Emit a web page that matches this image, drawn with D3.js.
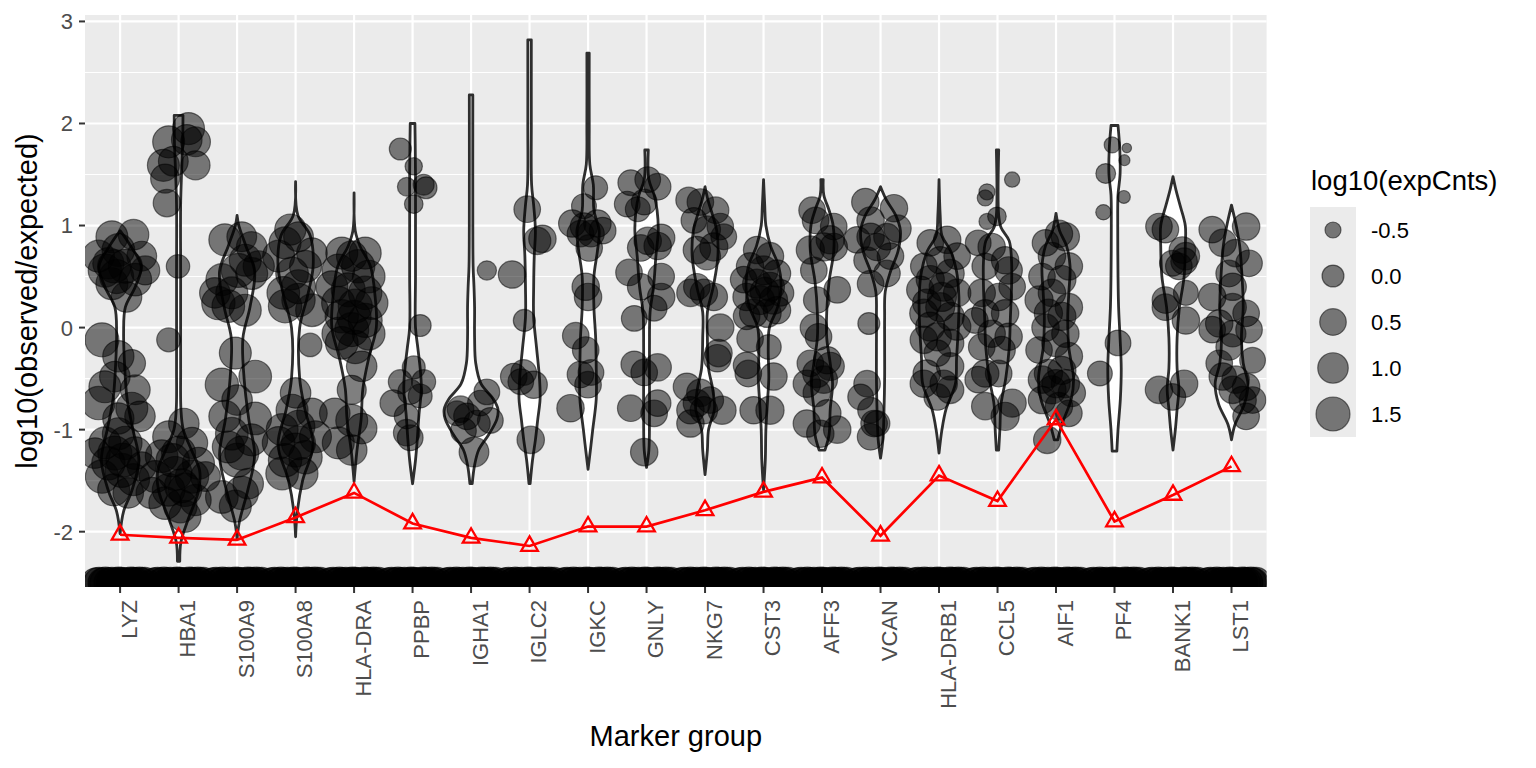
<!DOCTYPE html>
<html>
<head>
<meta charset="utf-8">
<script src="https://cdn.jsdelivr.net/npm/d3@7/dist/d3.min.js"></script>
<style>
  body { margin: 0; background: #fff; }
  text { font-family: "Liberation Sans", Arial, sans-serif; }
</style>
</head>
<body>
<svg id="chart" width="1536" height="768"></svg>
<script>
// Marker genes on the x axis
const genes = ['LYZ', 'HBA1', 'S100A9', 'S100A8', 'HLA-DRA', 'PPBP', 'IGHA1', 'IGLC2', 'IGKC', 'GNLY',
  'NKG7', 'CST3', 'AFF3', 'VCAN', 'HLA-DRB1', 'CCL5', 'AIF1', 'PF4', 'BANK1', 'LST1'];

// Red line (one value per gene)
const lineValues = [-2.03, -2.06, -2.08, -1.86, -1.62, -1.92, -2.06, -2.14, -1.95, -1.95,
  -1.79, -1.61, -1.47, -2.04, -1.45, -1.70, -0.90, -1.90, -1.64, -1.36];

const yTicks = [-2, -1, 0, 1, 2, 3];
const yMinor = [-2.5, -1.5, -0.5, 0.5, 1.5, 2.5];
const sizeBreaks = [-0.5, 0, 0.5, 1, 1.5];
const sizeLabels = ['-0.5', '0.0', '0.5', '1.0', '1.5'];

// Violin outlines: [value, half width in category units], bottom to top
const violinProfiles = [
  [[-2.02,0],[-1.8,0.06],[-1.6,0.2],[-1.3,0.32],[-1.0,0.22],[-0.7,0.12],[-0.4,0.08],[-0.05,0.06],[0.2,0.09],[0.4,0.26],[0.6,0.36],[0.8,0.18],[0.95,0]],
  [[-2.29,0.02],[-2.1,0.04],[-1.9,0.15],[-1.6,0.34],[-1.4,0.36],[-1.2,0.22],[-1.0,0.08],[-0.8,0.04],[-0.4,0.035],[0.5,0.035],[1.2,0.035],[1.5,0.05],[1.8,0.07],[2.08,0.075]],
  [[-2.07,0],[-1.9,0.04],[-1.6,0.18],[-1.25,0.3],[-0.9,0.2],[-0.5,0.12],[-0.1,0.1],[0.2,0.22],[0.55,0.3],[0.8,0.15],[1.0,0.03],[1.1,0]],
  [[-2.05,0],[-1.8,0.03],[-1.5,0.12],[-1.15,0.3],[-0.8,0.16],[-0.5,0.07],[0.0,0.07],[0.3,0.2],[0.6,0.3],[0.9,0.25],[1.1,0.04],[1.43,0]],
  [[-1.51,0],[-1.2,0.05],[-0.9,0.12],[-0.6,0.15],[-0.3,0.25],[0.0,0.38],[0.3,0.36],[0.6,0.28],[0.8,0.1],[0.95,0.02],[1.32,0]],
  [[-1.53,0],[-1.3,0.05],[-1.1,0.08],[-0.85,0.11],[-0.6,0.15],[-0.4,0.13],[-0.2,0.09],[0.0,0.05],[0.5,0.05],[1.0,0.05],[1.5,0.05],[1.8,0.045],[2.0,0.04]],
  [[-1.53,0.02],[-1.35,0.06],[-1.2,0.13],[-1.05,0.3],[-0.9,0.44],[-0.8,0.46],[-0.7,0.38],[-0.55,0.17],[-0.35,0.08],[-0.1,0.06],[0.2,0.06],[0.4,0.05],[0.6,0.035],[1.0,0.03],[2.28,0.03]],
  [[-1.53,0.01],[-1.3,0.05],[-1.1,0.1],[-0.9,0.14],[-0.7,0.18],[-0.5,0.17],[-0.2,0.12],[0.1,0.07],[0.4,0.07],[0.7,0.08],[0.95,0.1],[1.2,0.07],[1.4,0.035],[2.0,0.03],[2.82,0.03]],
  [[-1.39,0],[-1.2,0.04],[-1.0,0.08],[-0.7,0.14],[-0.4,0.14],[-0.1,0.13],[0.2,0.1],[0.5,0.1],[0.75,0.16],[0.95,0.19],[1.15,0.1],[1.4,0.09],[1.6,0.03],[2.0,0.02],[2.69,0.02]],
  [[-1.37,0],[-1.2,0.04],[-0.9,0.05],[-0.5,0.05],[-0.2,0.05],[0.15,0.06],[0.4,0.12],[0.7,0.16],[0.95,0.2],[1.15,0.18],[1.3,0.13],[1.45,0.04],[1.74,0.03]],
  [[-1.44,0],[-1.2,0.04],[-1.0,0.06],[-0.8,0.16],[-0.6,0.13],[-0.4,0.06],[-0.1,0.04],[0.15,0.04],[0.4,0.14],[0.7,0.22],[0.95,0.2],[1.1,0.13],[1.25,0.05],[1.38,0]],
  [[-1.59,0],[-1.3,0.03],[-1.0,0.04],[-0.7,0.07],[-0.5,0.09],[-0.2,0.08],[0.0,0.1],[0.2,0.24],[0.4,0.3],[0.6,0.26],[0.8,0.12],[1.0,0.04],[1.2,0.02],[1.45,0]],
  [[-1.2,0.05],[-1.05,0.12],[-0.8,0.14],[-0.55,0.18],[-0.35,0.14],[-0.1,0.08],[0.15,0.08],[0.45,0.12],[0.75,0.2],[1.0,0.19],[1.15,0.12],[1.3,0.03],[1.45,0.02]],
  [[-1.28,0],[-1.1,0.04],[-0.8,0.06],[-0.5,0.07],[-0.2,0.07],[0.1,0.07],[0.35,0.08],[0.55,0.17],[0.75,0.3],[0.95,0.34],[1.1,0.26],[1.25,0.1],[1.38,0]],
  [[-1.23,0],[-1.0,0.05],[-0.8,0.12],[-0.55,0.28],[-0.3,0.3],[0.0,0.33],[0.3,0.34],[0.55,0.3],[0.75,0.2],[0.9,0.05],[1.1,0.02],[1.45,0]],
  [[-1.2,0.02],[-1.0,0.04],[-0.75,0.06],[-0.5,0.14],[-0.2,0.2],[0.1,0.22],[0.4,0.24],[0.65,0.24],[0.85,0.2],[0.98,0.06],[1.1,0.02],[1.74,0.02]],
  [[-1.1,0.03],[-0.95,0.1],[-0.7,0.26],[-0.5,0.3],[-0.2,0.22],[0.1,0.2],[0.35,0.22],[0.6,0.24],[0.8,0.18],[0.95,0.06],[1.12,0]],
  [[-1.21,0.04],[-1.0,0.06],[-0.7,0.1],[-0.4,0.115],[-0.1,0.095],[0.2,0.07],[0.5,0.06],[1.0,0.055],[1.3,0.06],[1.5,0.095],[1.75,0.09],[1.98,0.06]],
  [[-1.2,0],[-1.0,0.04],[-0.8,0.07],[-0.6,0.1],[-0.4,0.07],[-0.1,0.07],[0.2,0.11],[0.5,0.19],[0.8,0.21],[1.0,0.21],[1.2,0.12],[1.35,0.05],[1.48,0]],
  [[-1.1,0],[-0.95,0.06],[-0.75,0.22],[-0.55,0.28],[-0.35,0.2],[-0.1,0.17],[0.2,0.2],[0.5,0.18],[0.8,0.14],[1.0,0.08],[1.2,0]]
];

// Jittered cells: [gene, jitter offset, log10(observed/expected), log10(expCnts)]
const cells = [
  ['LYZ',-0.14,0.89,1.2],['LYZ',0.23,0.91,1.0],['LYZ',-0.37,0.70,1.2],['LYZ',-0.03,0.76,1.3],['LYZ',0.37,0.70,0.9],
  ['LYZ',-0.26,0.56,1.4],['LYZ',0.09,0.60,1.5],['LYZ',0.43,0.56,0.8],['LYZ',-0.14,0.43,1.2],['LYZ',0.26,0.47,1.3],
  ['LYZ',0.11,0.30,1.0],['LYZ',-0.06,0.50,1.5],['LYZ',-0.2,0.63,1.1],['LYZ',-0.31,-0.12,1.5],['LYZ',-0.03,-0.28,1.1],
  ['LYZ',0.2,-0.35,0.6],['LYZ',-0.09,-0.48,1.0],['LYZ',-0.26,-0.58,1.2],['LYZ',0.26,-0.61,0.9],['LYZ',-0.37,-0.74,1.4],
  ['LYZ',0.2,-0.79,1.2],['LYZ',0.34,-0.87,1.0],['LYZ',-0.03,-0.89,1.1],['LYZ',-0.26,-1.13,1.2],['LYZ',0.09,-1.13,1.4],
  ['LYZ',-0.43,-1.23,1.0],['LYZ',-0.09,-1.23,1.5],['LYZ',0.26,-1.23,1.3],['LYZ',0.37,-1.36,0.8],['LYZ',-0.31,-1.46,1.4],
  ['LYZ',0.03,-1.40,1.5],['LYZ',0.23,-1.49,1.2],['LYZ',-0.11,-1.59,1.2],['LYZ',0.14,-1.62,1.0],['LYZ',-0.2,-1.33,1.4],
  ['LYZ',-0.03,-1.04,1.2],['LYZ',-0.1,0.6,1.4],['LYZ',0.05,-1.3,1.5],
  ['HBA1',-0.17,1.82,1.2],['HBA1',0.17,1.95,1.2],['HBA1',0.29,1.82,0.9],['HBA1',0.29,1.59,0.8],['HBA1',-0.26,1.59,1.2],
  ['HBA1',-0.09,1.63,0.9],['HBA1',-0.23,1.46,0.8],['HBA1',-0.2,1.22,0.6],['HBA1',0.14,1.84,1.0],['HBA1',-0.01,0.60,0.15],
  ['HBA1',-0.17,-0.12,0.2],['HBA1',0.09,-0.94,1.0],['HBA1',-0.17,-1.07,1.2],['HBA1',0.23,-1.13,1.1],['HBA1',-0.29,-1.26,1.3],
  ['HBA1',0.0,-1.23,1.5],['HBA1',0.34,-1.33,1.2],['HBA1',-0.4,-1.46,1.2],['HBA1',-0.06,-1.43,1.5],['HBA1',0.23,-1.46,1.4],
  ['HBA1',-0.17,-1.59,1.3],['HBA1',0.11,-1.59,1.4],['HBA1',-0.23,-1.72,1.3],['HBA1',0.11,-1.85,1.2],['HBA1',0.29,-1.69,1.1],
  ['HBA1',-0.46,-1.62,1.1],['HBA1',0.03,-1.75,1.4],['HBA1',0.46,-1.46,0.9],['HBA1',-0.1,-1.3,1.4],['HBA1',0.05,-1.55,1.5],
  ['S100A9',-0.21,0.86,1.2],['S100A9',0.08,0.89,0.9],['S100A9',0.25,0.79,1.0],['S100A9',0.14,0.66,1.2],['S100A9',0.37,0.60,1.1],
  ['S100A9',-0.26,0.47,1.2],['S100A9',0.02,0.56,1.5],['S100A9',0.25,0.53,1.2],['S100A9',-0.32,0.24,1.4],['S100A9',-0.15,0.21,1.3],
  ['S100A9',0.14,0.17,1.2],['S100A9',-0.09,0.34,1.2],['S100A9',-0.38,0.34,1.0],['S100A9',-0.03,-0.25,1.2],['S100A9',-0.26,-0.56,1.4],
  ['S100A9',0.31,-0.48,1.3],['S100A9',0.0,-0.71,1.0],['S100A9',-0.21,-0.87,1.2],['S100A9',0.31,-0.89,1.3],['S100A9',-0.09,-1.04,1.3],
  ['S100A9',0.25,-1.10,1.2],['S100A9',-0.15,-1.17,1.2],['S100A9',0.08,-1.23,1.5],['S100A9',0.0,-1.30,1.5],['S100A9',-0.26,-1.66,1.3],
  ['S100A9',0.08,-1.62,1.4],['S100A9',-0.03,-1.75,1.2],['S100A9',0.19,-1.53,1.0],
  ['S100A8',-0.09,0.96,1.1],['S100A8',-0.18,0.83,1.2],['S100A8',0.05,0.89,0.9],['S100A8',0.28,0.73,1.0],['S100A8',0.17,0.60,1.2],
  ['S100A8',-0.06,0.53,1.3],['S100A8',-0.29,0.70,1.2],['S100A8',-0.21,0.34,1.3],['S100A8',0.05,0.27,1.4],['S100A8',0.28,0.17,1.3],
  ['S100A8',-0.18,0.21,1.4],['S100A8',0.05,0.40,1.5],['S100A8',0.25,-0.17,0.15],['S100A8',0.0,-0.64,1.0],['S100A8',0.28,-0.84,1.0],
  ['S100A8',-0.06,-0.81,1.2],['S100A8',-0.23,-1.0,1.2],['S100A8',0.05,-0.97,1.3],['S100A8',-0.29,-1.13,1.3],['S100A8',0.05,-1.13,1.5],
  ['S100A8',0.34,-1.07,1.2],['S100A8',-0.18,-1.30,1.4],['S100A8',0.17,-1.27,1.4],['S100A8',-0.23,-1.43,1.3],['S100A8',0.11,-1.43,1.2],
  ['S100A8',0.0,-1.20,1.5],
  ['HLA-DRA',-0.21,0.73,1.2],['HLA-DRA',0.19,0.73,1.2],['HLA-DRA',-0.04,0.70,1.0],['HLA-DRA',-0.27,0.56,1.3],['HLA-DRA',0.07,0.60,1.4],
  ['HLA-DRA',0.25,0.50,1.3],['HLA-DRA',-0.38,0.40,1.2],['HLA-DRA',-0.1,0.37,1.5],['HLA-DRA',0.19,0.34,1.4],['HLA-DRA',0.30,0.24,1.3],
  ['HLA-DRA',-0.27,0.24,1.4],['HLA-DRA',0.02,0.21,1.5],['HLA-DRA',-0.21,0.11,1.4],['HLA-DRA',0.19,0.07,1.5],['HLA-DRA',-0.04,-0.02,1.5],
  ['HLA-DRA',-0.27,-0.06,1.3],['HLA-DRA',0.25,-0.06,1.3],['HLA-DRA',0.02,-0.19,1.4],['HLA-DRA',-0.21,-0.15,1.3],['HLA-DRA',0.13,-0.38,1.0],
  ['HLA-DRA',-0.04,-0.61,0.8],['HLA-DRA',-0.33,-0.84,1.0],['HLA-DRA',-0.04,-0.91,1.2],['HLA-DRA',0.13,-0.99,1.0],['HLA-DRA',-0.27,-1.13,1.2],
  ['HLA-DRA',-0.04,-1.2,1.0],['HLA-DRA',0.0,0.1,1.5],
  ['PPBP',-0.21,1.75,0.0],['PPBP',0.02,1.58,-0.4],['PPBP',-0.1,1.38,-0.3],['PPBP',0.23,1.37,0.0],['PPBP',0.19,1.40,-0.1],
  ['PPBP',0.02,1.21,-0.3],['PPBP',0.13,0.02,0.0],['PPBP',0.02,-0.39,0.1],['PPBP',-0.21,-0.53,0.2],['PPBP',0.19,-0.53,0.2],
  ['PPBP',-0.04,-0.63,0.3],['PPBP',0.13,-0.67,0.2],['PPBP',-0.33,-0.74,0.5],['PPBP',-0.1,-0.87,0.3],['PPBP',-0.1,-1.03,0.5],
  ['PPBP',-0.04,-1.08,0.4],
  ['IGHA1',0.27,0.56,-0.25],['IGHA1',-0.24,-0.84,0.3],['IGHA1',-0.07,-0.87,0.5],['IGHA1',0.16,-0.74,0.4],['IGHA1',0.27,-0.63,0.4],
  ['IGHA1',-0.13,-1.01,0.4],['IGHA1',0.1,-0.94,0.5],['IGHA1',0.33,-0.91,0.4],['IGHA1',0.05,-1.22,0.9],['IGHA1',-0.18,-0.80,0.5],
  ['IGLC2',-0.04,1.16,0.5],['IGLC2',0.13,0.85,0.6],['IGLC2',0.22,0.87,0.6],['IGLC2',-0.3,0.52,0.6],['IGLC2',-0.09,0.07,0.0],
  ['IGLC2',-0.27,-0.48,0.5],['IGLC2',-0.1,-0.44,0.4],['IGLC2',0.07,-0.56,0.6],['IGLC2',-0.15,-0.53,0.4],['IGLC2',0.02,-1.10,0.6],
  ['IGKC',0.13,1.37,0.2],['IGKC',-0.07,1.19,0.3],['IGKC',-0.27,1.02,0.6],['IGKC',-0.07,0.99,0.6],['IGKC',0.16,1.02,0.6],
  ['IGKC',0.05,0.92,0.5],['IGKC',-0.13,0.92,0.5],['IGKC',0.25,0.95,0.5],['IGKC',0.02,0.78,0.5],['IGKC',-0.04,0.40,0.6],
  ['IGKC',0.0,0.30,0.6],['IGKC',-0.21,-0.08,0.5],['IGKC',-0.04,-0.22,0.5],['IGKC',-0.13,-0.46,0.5],['IGKC',0.05,-0.44,0.4],
  ['IGKC',0.0,-0.56,0.5],['IGKC',-0.3,-0.79,0.6],
  ['GNLY',-0.27,1.42,0.4],['GNLY',0.02,1.45,0.4],['GNLY',0.19,1.38,0.5],['GNLY',-0.33,1.21,0.4],['GNLY',-0.04,1.23,0.4],
  ['GNLY',-0.15,1.16,0.3],['GNLY',0.02,0.85,0.6],['GNLY',0.25,0.88,0.6],['GNLY',-0.1,0.78,0.5],['GNLY',0.19,0.80,0.6],
  ['GNLY',-0.3,0.54,0.5],['GNLY',-0.1,0.40,0.5],['GNLY',0.25,0.50,0.5],['GNLY',0.25,0.30,0.6],['GNLY',0.13,0.19,0.4],
  ['GNLY',-0.21,0.09,0.4],['GNLY',-0.21,-0.36,0.5],['GNLY',-0.04,-0.44,0.5],['GNLY',0.19,-0.39,0.6],['GNLY',-0.27,-0.79,0.5],
  ['GNLY',0.13,-0.84,0.5],['GNLY',0.19,-0.74,0.5],['GNLY',-0.04,-1.22,0.6],
  ['NKG7',-0.28,1.25,0.4],['NKG7',-0.08,1.23,0.5],['NKG7',0.18,1.15,0.5],['NKG7',-0.19,1.05,0.4],['NKG7',0.26,0.99,0.5],
  ['NKG7',0.03,0.96,0.6],['NKG7',0.32,0.89,0.4],['NKG7',-0.14,0.76,0.6],['NKG7',0.15,0.79,0.7],['NKG7',0.03,0.70,0.6],
  ['NKG7',-0.25,0.34,0.6],['NKG7',-0.02,0.34,0.6],['NKG7',0.15,0.30,0.6],['NKG7',-0.14,0.40,0.5],['NKG7',0.26,0.0,0.6],
  ['NKG7',0.23,-0.25,0.6],['NKG7',0.21,-0.30,0.6],['NKG7',-0.31,-0.58,0.6],['NKG7',-0.08,-0.64,0.6],['NKG7',0.09,-0.71,0.5],
  ['NKG7',-0.25,-0.81,0.6],['NKG7',-0.02,-0.81,0.6],['NKG7',0.29,-0.81,0.7],['NKG7',-0.25,-0.94,0.6],['NKG7',-0.14,-0.74,0.6],
  ['CST3',-0.11,0.76,0.6],['CST3',0.11,0.70,0.6],['CST3',-0.23,0.60,0.6],['CST3',0.0,0.56,0.8],['CST3',0.23,0.53,0.6],
  ['CST3',-0.34,0.47,0.5],['CST3',-0.11,0.43,0.8],['CST3',0.11,0.40,0.8],['CST3',0.29,0.34,0.5],['CST3',-0.29,0.30,0.6],
  ['CST3',-0.06,0.27,0.8],['CST3',0.17,0.27,0.7],['CST3',-0.17,0.14,0.7],['CST3',0.06,0.14,0.7],['CST3',-0.29,0.11,0.5],
  ['CST3',0.23,0.17,0.6],['CST3',-0.23,-0.11,0.5],['CST3',0.09,-0.19,0.3],['CST3',-0.29,-0.37,0.5],['CST3',-0.26,-0.45,0.5],
  ['CST3',0.17,-0.48,0.6],['CST3',-0.17,-0.81,0.6],['CST3',0.11,-0.81,0.7],['CST3',0.02,0.35,0.8],
  ['AFF3',-0.17,1.15,0.5],['AFF3',-0.11,1.05,0.5],['AFF3',0.2,0.99,0.5],['AFF3',0.14,0.86,0.7],['AFF3',-0.2,0.76,0.7],
  ['AFF3',0.03,0.79,0.7],['AFF3',0.2,0.79,0.6],['AFF3',-0.14,0.56,0.5],['AFF3',0.26,0.37,0.5],['AFF3',-0.09,0.27,0.5],
  ['AFF3',-0.14,0.0,0.6],['AFF3',-0.06,-0.09,0.5],['AFF3',-0.2,-0.35,0.5],['AFF3',0.09,-0.32,0.6],['AFF3',0.14,-0.38,0.7],
  ['AFF3',-0.09,-0.45,0.7],['AFF3',-0.26,-0.55,0.6],['AFF3',0.03,-0.51,0.6],['AFF3',-0.09,-0.64,0.6],['AFF3',0.09,-0.84,0.6],
  ['AFF3',-0.26,-0.94,0.6],['AFF3',-0.03,-1.04,0.6],['AFF3',0.26,-1.0,0.6],
  ['VCAN',-0.26,1.23,0.6],['VCAN',0.23,1.17,0.6],['VCAN',-0.17,1.05,0.6],['VCAN',0.29,0.97,0.6],['VCAN',-0.4,0.86,0.5],
  ['VCAN',-0.17,0.89,0.6],['VCAN',0.11,0.89,0.5],['VCAN',-0.06,0.79,0.6],['VCAN',-0.23,0.66,0.5],['VCAN',0.17,0.70,0.5],
  ['VCAN',-0.17,0.43,0.5],['VCAN',0.11,0.53,0.5],['VCAN',-0.2,0.04,0.0],['VCAN',-0.23,-0.55,0.5],['VCAN',-0.34,-0.68,0.4],
  ['VCAN',-0.17,-0.81,0.4],['VCAN',-0.11,-0.94,0.5],['VCAN',-0.17,-1.07,0.5],['VCAN',-0.06,-0.94,0.4],
  ['HLA-DRB1',-0.15,0.83,0.5],['HLA-DRB1',0.14,0.86,0.6],['HLA-DRB1',0.31,0.70,0.5],['HLA-DRB1',-0.26,0.60,0.5],['HLA-DRB1',0.02,0.66,0.6],
  ['HLA-DRB1',0.19,0.53,0.7],['HLA-DRB1',-0.15,0.47,0.7],['HLA-DRB1',-0.32,0.37,0.6],['HLA-DRB1',0.08,0.40,0.8],['HLA-DRB1',0.31,0.34,0.6],
  ['HLA-DRB1',-0.21,0.24,0.7],['HLA-DRB1',0.02,0.20,0.8],['HLA-DRB1',-0.26,0.14,0.7],['HLA-DRB1',0.19,0.11,0.7],['HLA-DRB1',-0.15,0.01,0.8],
  ['HLA-DRB1',0.31,0.01,0.6],['HLA-DRB1',-0.03,-0.09,0.7],['HLA-DRB1',0.19,-0.15,0.6],['HLA-DRB1',-0.26,-0.12,0.6],['HLA-DRB1',-0.03,-0.25,0.5],
  ['HLA-DRB1',0.19,-0.38,0.6],['HLA-DRB1',-0.21,-0.45,0.6],['HLA-DRB1',0.08,-0.55,0.6],['HLA-DRB1',-0.26,-0.55,0.6],['HLA-DRB1',0.19,-0.61,0.6],
  ['HLA-DRB1',-0.03,-0.68,0.5],['HLA-DRB1',0.05,0.3,0.8],
  ['CCL5',0.25,1.45,-0.55],['CCL5',-0.18,1.33,-0.5],['CCL5',-0.21,1.27,-0.5],['CCL5',-0.18,1.04,-0.5],['CCL5',-0.01,1.09,-0.3],
  ['CCL5',-0.33,0.83,0.4],['CCL5',-0.1,0.79,0.6],['CCL5',0.13,0.66,0.6],['CCL5',-0.21,0.60,0.5],['CCL5',0.19,0.56,0.6],
  ['CCL5',0.25,0.40,0.5],['CCL5',-0.27,0.34,0.6],['CCL5',0.02,0.30,0.6],['CCL5',-0.21,0.14,0.6],['CCL5',0.13,0.14,0.6],
  ['CCL5',-0.38,0.07,0.4],['CCL5',-0.1,-0.06,0.6],['CCL5',0.19,-0.09,0.6],['CCL5',-0.27,-0.19,0.5],['CCL5',0.07,-0.22,0.6],
  ['CCL5',-0.21,-0.45,0.6],['CCL5',0.02,-0.45,0.5],['CCL5',-0.33,-0.51,0.5],['CCL5',-0.21,-0.77,0.6],['CCL5',0.25,-0.74,0.7],
  ['CCL5',0.13,-0.87,0.7],
  ['AIF1',0.05,0.92,0.6],['AIF1',-0.18,0.83,0.5],['AIF1',0.16,0.89,0.7],['AIF1',-0.07,0.70,0.6],['AIF1',0.22,0.60,0.6],
  ['AIF1',-0.24,0.50,0.5],['AIF1',0.1,0.47,0.7],['AIF1',-0.07,0.34,0.6],['AIF1',-0.29,0.27,0.7],['AIF1',0.22,0.20,0.6],
  ['AIF1',-0.13,0.14,0.7],['AIF1',0.1,0.11,0.7],['AIF1',-0.18,0.0,0.6],['AIF1',0.16,-0.06,0.6],['AIF1',-0.01,-0.15,0.6],
  ['AIF1',-0.29,-0.22,0.5],['AIF1',0.22,-0.28,0.6],['AIF1',-0.13,-0.45,0.7],['AIF1',0.1,-0.42,0.7],['AIF1',-0.24,-0.51,0.6],
  ['AIF1',0.16,-0.55,0.7],['AIF1',-0.07,-0.61,0.7],['AIF1',0.27,-0.64,0.6],['AIF1',-0.24,-0.71,0.6],['AIF1',0.05,-0.77,0.6],
  ['AIF1',0.22,-0.84,0.5],['AIF1',-0.15,-1.10,0.6],['AIF1',0.0,-0.55,0.7],
  ['PF4',-0.04,1.79,-0.5],['PF4',0.21,1.76,-0.87],['PF4',0.17,1.64,-0.8],['PF4',-0.15,1.51,-0.2],['PF4',0.16,1.28,-0.7],
  ['PF4',-0.19,1.13,-0.55],['PF4',0.06,-0.15,0.4],['PF4',-0.25,-0.45,0.3],
  ['BANK1',-0.24,0.99,0.5],['BANK1',-0.13,0.96,0.5],['BANK1',0.16,0.76,0.5],['BANK1',0.22,0.70,0.6],['BANK1',0.1,0.60,0.5],
  ['BANK1',0.19,0.65,0.5],['BANK1',-0.01,0.63,0.4],['BANK1',-0.13,0.27,0.5],['BANK1',0.22,0.34,0.3],['BANK1',-0.13,0.20,0.5],
  ['BANK1',0.22,0.07,0.6],['BANK1',-0.24,-0.61,0.6],['BANK1',-0.01,-0.68,0.5],['BANK1',0.19,-0.55,0.6],
  ['LST1',-0.33,0.96,0.5],['LST1',-0.15,0.83,0.6],['LST1',0.25,0.99,0.6],['LST1',0.07,0.73,0.6],['LST1',0.3,0.63,0.5],
  ['LST1',-0.04,0.53,0.5],['LST1',-0.33,0.30,0.6],['LST1',0.02,0.40,0.6],['LST1',0.25,0.14,0.5],['LST1',0.02,0.20,0.6],
  ['LST1',-0.21,0.04,0.6],['LST1',-0.33,-0.02,0.5],['LST1',0.02,-0.06,0.5],['LST1',0.3,-0.02,0.5],['LST1',-0.04,-0.19,0.5],
  ['LST1',0.36,-0.32,0.4],['LST1',-0.21,-0.35,0.5],['LST1',-0.15,-0.48,0.6],['LST1',0.07,-0.51,0.6],['LST1',0.25,-0.58,0.6],
  ['LST1',0.02,-0.61,0.6],['LST1',0.36,-0.71,0.5],['LST1',0.19,-0.71,0.6],['LST1',0.25,-0.87,0.5]
];

// Cells with no observed counts sit on the floor of the axis
const zeroValue = -2.5;
const zeroJitter = [-0.41, -0.36, -0.3, -0.25, -0.19, -0.14, -0.08, -0.03, 0.02, 0.07, 0.12, 0.18, 0.23, 0.28, 0.33, 0.38, 0.42];
const zeroSizes = [0.9, 1.0, 0.8, 1.1, 0.9, 1.0, 0.8, 1.1, 1.0, 0.9, 0.8, 1.1, 1.0, 0.9, 1.1, 0.8, 1.0];

// Layout
const svg = d3.select('#chart');
const panel = {left: 85, right: 1266.6, top: 15, bottom: 587};

const x = d3.scalePoint()
  .domain(genes)
  .range([panel.left, panel.right])
  .padding(0.6);
const step = x.step();

const y = d3.scaleLinear()
  .domain([-2.542, 3.063])
  .range([panel.bottom, panel.top]);

// Point area grows linearly with log10(expCnts)
const area = d3.scaleLinear().domain([-1.07, 1.5]).range([0, 289]);
const radius = (v) => Math.sqrt(Math.max(area(v), 4));

// Panel background and grid
svg.append('rect')
  .attr('x', panel.left).attr('y', panel.top)
  .attr('width', panel.right - panel.left).attr('height', panel.bottom - panel.top)
  .attr('fill', '#ebebeb');

const grid = svg.append('g');
grid.selectAll('.minor').data(yMinor).join('line')
  .attr('x1', panel.left).attr('x2', panel.right)
  .attr('y1', d => y(d)).attr('y2', d => y(d))
  .attr('stroke', '#fff').attr('stroke-width', 1.1);
grid.selectAll('.major').data(yTicks).join('line')
  .attr('x1', panel.left).attr('x2', panel.right)
  .attr('y1', d => y(d)).attr('y2', d => y(d))
  .attr('stroke', '#fff').attr('stroke-width', 2.2);
grid.selectAll('.vmajor').data(genes).join('line')
  .attr('x1', d => x(d)).attr('x2', d => x(d))
  .attr('y1', panel.top).attr('y2', panel.bottom)
  .attr('stroke', '#fff').attr('stroke-width', 2.2);

svg.append('clipPath').attr('id', 'panelClip')
  .append('rect')
  .attr('x', panel.left).attr('y', panel.top)
  .attr('width', panel.right - panel.left).attr('height', panel.bottom - panel.top);

const plot = svg.append('g').attr('clip-path', 'url(#panelClip)');

// Violins
genes.forEach((g, i) => {
  const cx = x(g);
  const violinArea = d3.area()
    .y(d => y(d[0]))
    .x0(d => cx - d[1] * step)
    .x1(d => cx + d[1] * step)
    .curve(d3.curveCatmullRom.alpha(0.5));
  plot.append('path')
    .datum(violinProfiles[i])
    .attr('d', violinArea)
    .attr('fill', '#fff')
    .attr('stroke', '#2e2e2e')
    .attr('stroke-width', 2.8)
    .attr('stroke-linejoin', 'round');
});

// Jittered cells
plot.append('g').selectAll('circle').data(cells).join('circle')
  .attr('cx', d => x(d[0]) + d[1] * step)
  .attr('cy', d => y(d[2]))
  .attr('r', d => radius(d[3]))
  .attr('fill', 'rgba(0,0,0,0.5)')
  .attr('stroke', 'rgba(0,0,0,0.5)')
  .attr('stroke-width', 1.2);

// Zero-count cells
const zeros = [];
genes.forEach(g => zeroJitter.forEach((j, k) => zeros.push([g, j, zeroValue, zeroSizes[k]])));
plot.append('g').selectAll('circle').data(zeros).join('circle')
  .attr('cx', d => x(d[0]) + d[1] * step)
  .attr('cy', d => y(d[2]))
  .attr('r', d => radius(d[3]))
  .attr('fill', 'rgba(0,0,0,0.6)')
  .attr('stroke', 'rgba(0,0,0,0.6)')
  .attr('stroke-width', 1.2);

// Red line with open triangles
const redLine = d3.line()
  .x((d, i) => x(genes[i]))
  .y(d => y(d));
plot.append('path')
  .datum(lineValues)
  .attr('d', redLine)
  .attr('fill', 'none')
  .attr('stroke', '#ff0000')
  .attr('stroke-width', 2.7);
plot.append('g').selectAll('path').data(lineValues).join('path')
  .attr('transform', (d, i) => 'translate(' + x(genes[i]) + ',' + y(d) + ')')
  .attr('d', d3.symbol(d3.symbolTriangle, 120))
  .attr('fill', 'none')
  .attr('stroke', '#ff0000')
  .attr('stroke-width', 2.3);

// Y axis
const yAxis = svg.append('g');
yAxis.selectAll('line').data(yTicks).join('line')
  .attr('x1', panel.left - 6).attr('x2', panel.left)
  .attr('y1', d => y(d)).attr('y2', d => y(d))
  .attr('stroke', '#333').attr('stroke-width', 2);
yAxis.selectAll('text').data(yTicks).join('text')
  .attr('x', panel.left - 12)
  .attr('y', d => y(d))
  .attr('dy', '0.36em')
  .attr('text-anchor', 'end')
  .attr('font-size', 22)
  .attr('fill', '#4d4d4d')
  .text(d => d);

// X axis
const xAxis = svg.append('g');
xAxis.selectAll('line').data(genes).join('line')
  .attr('x1', d => x(d)).attr('x2', d => x(d))
  .attr('y1', panel.bottom).attr('y2', panel.bottom + 6)
  .attr('stroke', '#333').attr('stroke-width', 2);
xAxis.selectAll('text').data(genes).join('text')
  .attr('transform', d => 'translate(' + (x(d) + 16.5) + ',' + (panel.bottom + 13) + ') rotate(-90)')
  .attr('text-anchor', 'end')
  .attr('font-size', 22)
  .attr('fill', '#4d4d4d')
  .text(d => d);

// Axis titles
svg.append('text')
  .attr('x', (panel.left + panel.right) / 2)
  .attr('y', 746)
  .attr('text-anchor', 'middle')
  .attr('font-size', 29)
  .attr('fill', '#000')
  .text('Marker group');
svg.append('text')
  .attr('transform', 'translate(37,' + ((panel.top + panel.bottom) / 2) + ') rotate(-90)')
  .attr('text-anchor', 'middle')
  .attr('font-size', 29)
  .attr('fill', '#000')
  .text('log10(observed/expected)');

// Size legend
const legend = svg.append('g').attr('transform', 'translate(1310,0)');
legend.append('text')
  .attr('x', 1).attr('y', 190)
  .attr('font-size', 27.5)
  .attr('fill', '#000')
  .text('log10(expCnts)');
legend.append('rect')
  .attr('x', 0).attr('y', 207)
  .attr('width', 46).attr('height', 230)
  .attr('fill', '#ebebeb');
const keys = legend.selectAll('.key').data(sizeBreaks).join('g')
  .attr('transform', (d, i) => 'translate(0,' + (207 + 23 + i * 46) + ')');
keys.append('circle')
  .attr('cx', 23).attr('cy', 0)
  .attr('r', d => radius(d))
  .attr('fill', 'rgba(0,0,0,0.5)')
  .attr('stroke', 'rgba(0,0,0,0.5)')
  .attr('stroke-width', 1.2);
keys.append('text')
  .attr('x', 61).attr('y', 0)
  .attr('dy', '0.36em')
  .attr('font-size', 22)
  .attr('fill', '#000')
  .text((d, i) => sizeLabels[i]);
</script>
</body>
</html>
